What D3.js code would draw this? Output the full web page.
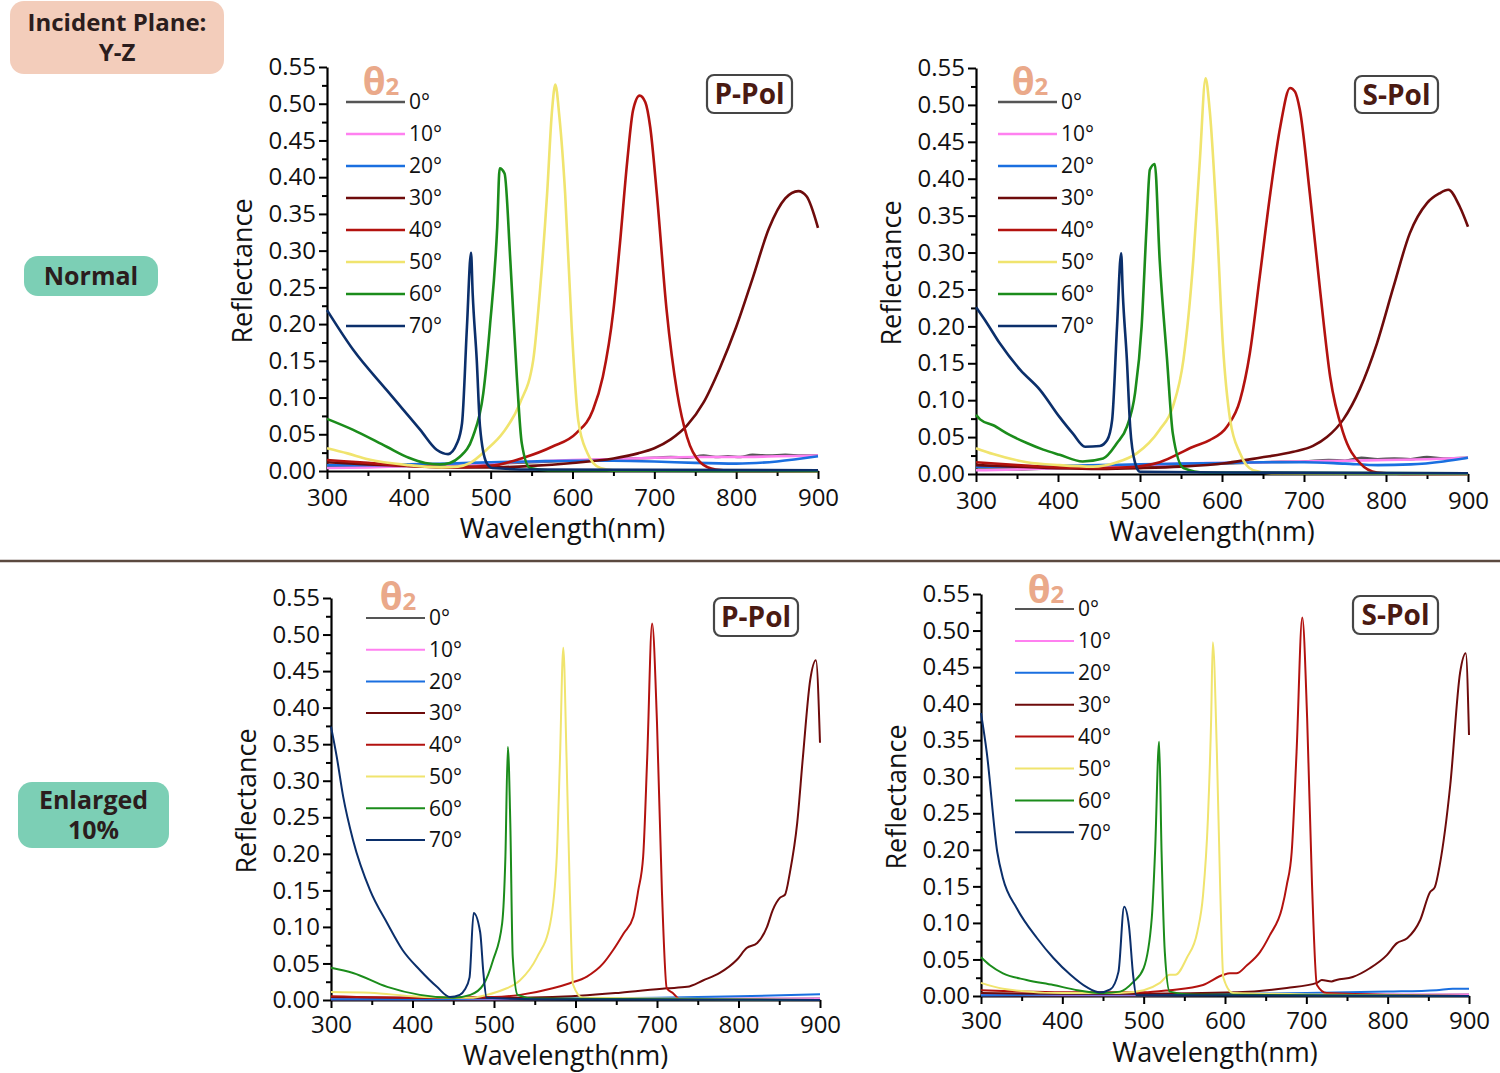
<!DOCTYPE html>
<html>
<head>
<meta charset="utf-8">
<script src="https://cdn.jsdelivr.net/npm/d3@7"></script>
<style>
  body { margin: 0; background: #fff; }
  text { font-family: "Open Sans", "Noto Sans", sans-serif; }
</style>
</head>
<body>
<div id="chart"></div>
<script>
// legend entries and colours
var angles = ["0°", "10°", "20°", "30°", "40°", "50°", "60°", "70°"];
var colors = ["#555555", "#ff80f0", "#1a6fe0", "#6e0b0b", "#b3120f", "#f0e46e", "#1b8c1b", "#0b2f6b"];
var yTicks = [0, 0.05, 0.1, 0.15, 0.2, 0.25, 0.3, 0.35, 0.4, 0.45, 0.5, 0.55];
var xTicks = [300, 400, 500, 600, 700, 800, 900];

// ---- Normal, P-Pol : [wavelength nm, reflectance]
var nP0 = [[300,0.006],[350,0.006],[400,0.007],[450,0.008],[500,0.010],[550,0.012],[600,0.014],[650,0.016],[700,0.018],[720,0.019],[740,0.018],[760,0.021],[775,0.019],[790,0.020],[805,0.019],[820,0.022],[840,0.021],[860,0.022],[880,0.021],[900,0.021]];
var nP10 = [[300,0.004],[350,0.005],[400,0.007],[450,0.009],[500,0.011],[550,0.013],[600,0.015],[650,0.016],[700,0.018],[750,0.019],[800,0.019],[850,0.020],[900,0.021]];
var nP20 = [[300,0.008],[350,0.008],[400,0.009],[450,0.010],[500,0.012],[550,0.013],[600,0.014],[650,0.014],[700,0.013],[750,0.011],[800,0.010],[850,0.013],[900,0.020]];
var nP30 = [[300,0.012],[350,0.009],[400,0.007],[450,0.005],[500,0.005],[550,0.007],[600,0.011],[650,0.017],[680,0.024],[700,0.031],[720,0.043],[740,0.062],[760,0.093],[780,0.140],[800,0.196],[820,0.262],[840,0.330],[860,0.371],[876,0.381],[886,0.374],[900,0.331]];
var nP40 = [[300,0.015],[350,0.011],[400,0.007],[450,0.005],[500,0.007],[540,0.018],[575,0.033],[605,0.052],[625,0.083],[637,0.128],[650,0.219],[658,0.310],[667,0.423],[674,0.491],[682,0.511],[689,0.502],[695,0.468],[703,0.378],[715,0.219],[728,0.106],[740,0.046],[756,0.012],[775,0.002],[800,0.000],[900,0.000]];
var nP50 = [[300,0.031],[325,0.024],[350,0.016],[400,0.008],[440,0.005],[460,0.006],[475,0.011],[495,0.029],[515,0.052],[536,0.093],[552,0.151],[560,0.242],[569,0.378],[575,0.491],[579,0.526],[584,0.482],[591,0.378],[599,0.196],[607,0.069],[618,0.025],[634,0.004],[650,0.001],[900,0.000]];
var nP60 = [[300,0.071],[332,0.056],[373,0.033],[400,0.018],[420,0.011],[438,0.009],[450,0.011],[462,0.019],[478,0.046],[491,0.106],[499,0.196],[508,0.332],[511,0.412],[517,0.405],[524,0.287],[532,0.128],[538,0.038],[548,0.004],[570,0.001],[900,0.000]];
var nP70 = [[300,0.219],[332,0.165],[373,0.110],[414,0.056],[434,0.029],[448,0.023],[459,0.038],[465,0.065],[471,0.196],[476,0.297],[478,0.242],[483,0.151],[487,0.060],[495,0.011],[502,0.004],[550,0.002],[900,0.001]];

// ---- Normal, S-Pol
var nS0 = [[300,0.006],[350,0.006],[400,0.008],[450,0.009],[500,0.011],[550,0.012],[600,0.014],[650,0.016],[700,0.017],[730,0.019],[750,0.018],[770,0.022],[790,0.020],[810,0.021],[830,0.020],[850,0.023],[870,0.021],[900,0.022]];
var nS10 = [[300,0.005],[350,0.006],[400,0.008],[450,0.010],[500,0.012],[550,0.014],[600,0.015],[650,0.016],[700,0.017],[750,0.018],[800,0.019],[850,0.020],[900,0.022]];
var nS20 = [[300,0.010],[350,0.010],[400,0.011],[450,0.012],[500,0.013],[550,0.014],[600,0.015],[650,0.016],[700,0.016],[750,0.014],[790,0.012],[830,0.013],[870,0.017],[900,0.022]];
var nS30 = [[300,0.012],[350,0.010],[400,0.008],[450,0.007],[500,0.008],[550,0.010],[606,0.015],[646,0.022],[687,0.030],[711,0.038],[728,0.050],[748,0.074],[768,0.115],[789,0.177],[809,0.253],[829,0.326],[850,0.367],[865,0.380],[876,0.385],[890,0.362],[900,0.335]];
var nS40 = [[300,0.016],[350,0.012],[400,0.009],[450,0.008],[484,0.009],[524,0.016],[565,0.037],[585,0.046],[606,0.064],[622,0.100],[634,0.164],[646,0.267],[659,0.381],[671,0.470],[683,0.523],[689,0.518],[695,0.493],[707,0.381],[720,0.245],[732,0.131],[748,0.055],[768,0.015],[789,0.002],[820,0.000],[900,0.000]];
var nS50 = [[300,0.035],[321,0.027],[362,0.016],[402,0.012],[443,0.010],[472,0.016],[496,0.028],[524,0.060],[540,0.091],[553,0.155],[565,0.290],[573,0.425],[580,0.536],[585,0.493],[594,0.335],[601,0.177],[610,0.073],[622,0.028],[638,0.005],[660,0.001],[900,0.000]];
var nS60 = [[300,0.080],[305,0.074],[321,0.066],[341,0.053],[362,0.042],[382,0.033],[402,0.026],[430,0.017],[455,0.021],[472,0.042],[484,0.064],[494,0.110],[502,0.200],[508,0.335],[512,0.412],[518,0.420],[524,0.290],[533,0.155],[540,0.055],[553,0.008],[580,0.002],[900,0.001]];
var nS70 = [[300,0.226],[313,0.205],[329,0.177],[354,0.141],[378,0.114],[402,0.077],[418,0.055],[433,0.037],[451,0.038],[460,0.046],[466,0.073],[472,0.200],[477,0.299],[479,0.245],[484,0.155],[488,0.064],[494,0.015],[500,0.003],[600,0.002],[900,0.001]];

// ---- Enlarged 10%, P-Pol
var eP0 = [[300,0.002],[500,0.001],[700,0.001],[900,0.002]];
var eP10 = [[300,0.001],[500,0.001],[700,0.002],[900,0.002]];
var eP20 = [[300,0.001],[400,0.001],[500,0.002],[600,0.002],[700,0.003],[800,0.005],[900,0.008]];
var eP30 = [[300,0.004],[400,0.003],[500,0.003],[572,0.004],[655,0.010],[712,0.016],[737,0.018],[757,0.027],[777,0.037],[798,0.055],[810,0.071],[823,0.078],[835,0.100],[842,0.123],[851,0.140],[857,0.144],[863,0.174],[872,0.242],[879,0.332],[888,0.438],[895,0.465],[900,0.352]];
var eP40 = [[300,0.005],[400,0.003],[500,0.004],[532,0.007],[572,0.016],[593,0.023],[614,0.032],[634,0.050],[646,0.068],[659,0.091],[671,0.114],[677,0.150],[683,0.196],[688,0.332],[694,0.515],[700,0.379],[706,0.150],[712,0.016],[720,0.009],[728,0.001],[900,0.000]];
var eP50 = [[300,0.011],[348,0.010],[400,0.005],[450,0.003],[471,0.003],[491,0.007],[511,0.014],[532,0.027],[553,0.059],[569,0.105],[577,0.196],[581,0.332],[585,0.482],[589,0.332],[593,0.150],[597,0.021],[609,0.003],[900,0.000]];
var eP60 = [[300,0.044],[327,0.037],[369,0.018],[409,0.007],[450,0.003],[471,0.007],[487,0.021],[499,0.055],[510,0.105],[514,0.196],[517,0.346],[520,0.242],[523,0.059],[529,0.007],[550,0.002],[900,0.000]];
var eP70 = [[300,0.374],[307,0.333],[315,0.278],[327,0.219],[348,0.150],[369,0.105],[388,0.068],[409,0.041],[430,0.018],[446,0.004],[458,0.007],[464,0.014],[470,0.031],[475,0.119],[483,0.093],[487,0.037],[491,0.003],[550,0.001],[900,0.000]];

// ---- Enlarged 10%, S-Pol
var eS0 = [[300,0.002],[500,0.001],[700,0.001],[900,0.002]];
var eS10 = [[300,0.001],[500,0.001],[700,0.002],[900,0.002]];
var eS20 = [[300,0.001],[400,0.002],[500,0.002],[600,0.003],[700,0.004],[800,0.006],[860,0.008],[880,0.010],[900,0.010]];
var eS30 = [[300,0.004],[400,0.003],[500,0.003],[615,0.005],[676,0.011],[713,0.018],[719,0.022],[731,0.020],[737,0.022],[757,0.026],[778,0.038],[799,0.056],[811,0.072],[824,0.079],[840,0.104],[852,0.142],[858,0.149],[864,0.179],[877,0.289],[889,0.442],[896,0.469],[900,0.357]];
var eS40 = [[300,0.008],[350,0.006],[400,0.005],[500,0.005],[532,0.008],[573,0.015],[598,0.029],[606,0.031],[614,0.031],[627,0.042],[643,0.060],[655,0.083],[670,0.120],[676,0.152],[682,0.197],[688,0.334],[695,0.518],[701,0.380],[707,0.152],[713,0.015],[725,0.004],[900,0.000]];
var eS50 = [[300,0.018],[327,0.010],[400,0.004],[470,0.004],[500,0.008],[520,0.018],[532,0.029],[539,0.029],[553,0.052],[566,0.088],[573,0.138],[579,0.243],[583,0.380],[585,0.484],[590,0.334],[594,0.152],[598,0.025],[610,0.004],[900,0.000]];
var eS60 = [[300,0.053],[311,0.042],[327,0.031],[356,0.022],[389,0.015],[418,0.008],[450,0.004],[471,0.006],[487,0.019],[500,0.038],[510,0.107],[514,0.197],[519,0.348],[522,0.197],[526,0.060],[532,0.006],[560,0.002],[900,0.000]];
var eS70 = [[300,0.387],[307,0.334],[320,0.197],[327,0.161],[344,0.120],[369,0.079],[389,0.052],[410,0.029],[430,0.012],[446,0.005],[459,0.009],[469,0.033],[476,0.122],[482,0.095],[487,0.029],[491,0.001],[550,0.001],[900,0.000]];

// panel layout (pixel boxes), series lists built from the arrays above
var panels = [
  { left: 327, top: 67, w: 491, h: 404, pol: "P-Pol", box: [707, 75, 85, 38], leg: [19, 35, 32], theta: [381, 95], lw: 2.6, xt: 67, pad: 10,
    series: [nP0, nP10, nP20, nP30, nP40, nP50, nP60, nP70] },
  { left: 976, top: 68, w: 492, h: 406, pol: "S-Pol", box: [1355, 76, 83, 37], leg: [22, 34, 32], theta: [1030, 95], lw: 2.6, xt: 67, pad: 10,
    series: [nS0, nS10, nS20, nS30, nS40, nS50, nS60, nS70] },
  { left: 331, top: 598, w: 489, h: 402, pol: "P-Pol", box: [714, 598, 84, 38], leg: [35, 20, 31.7], theta: [398, 610], lw: 2, xt: 65, pad: 8,
    series: [eP0, eP10, eP20, eP30, eP40, eP50, eP60, eP70] },
  { left: 981, top: 594, w: 488, h: 402, pol: "S-Pol", box: [1353, 596, 85, 38], leg: [34, 15, 31.9], theta: [1046, 603], lw: 2, xt: 66, pad: 8,
    series: [eS0, eS10, eS20, eS30, eS40, eS50, eS60, eS70] }
];

var svg = d3.select("#chart").append("svg")
  .attr("width", 1500)
  .attr("height", 1073);

// side labels
function sideBox(x, y, w, h, fill, lines, size, lh) {
  svg.append("rect").attr("x", x).attr("y", y).attr("width", w).attr("height", h)
    .attr("rx", 14).attr("fill", fill);
  var t = svg.append("text").attr("text-anchor", "middle")
    .attr("font-weight", "bold").attr("font-size", size).attr("fill", "#2b1d1d");
  var y0 = y + h / 2 - (lines.length - 1) * lh / 2;
  lines.forEach(function (l, i) {
    t.append("tspan").attr("x", x + w / 2).attr("y", y0 + i * lh).attr("dy", "0.35em").text(l);
  });
}
sideBox(10, 1, 214, 73, "#f3cdbb", ["Incident Plane:", "Y-Z"], 24, 30);
sideBox(24, 256, 134, 40, "#7ccfb5", ["Normal"], 25, 0);
sideBox(18, 782, 151, 66, "#7ccfb5", ["Enlarged", "10%"], 25, 30);

// divider
svg.append("line").attr("x1", 0).attr("x2", 1500).attr("y1", 561).attr("y2", 561)
  .attr("stroke", "#5b4a40").attr("stroke-width", 2.5);

panels.forEach(function (p) {
  var x = d3.scaleLinear().domain([300, 900]).range([p.left, p.left + p.w]);
  var y = d3.scaleLinear().domain([0, 0.55]).range([p.top + p.h, p.top]);
  var g = svg.append("g");

  // minor ticks
  g.append("g").attr("transform", "translate(0," + (p.top + p.h) + ")")
    .call(d3.axisBottom(x).tickValues(d3.range(350, 900, 100)).tickSize(5).tickFormat(""))
    .call(function (a) { a.select(".domain").remove(); })
    .selectAll("line").attr("stroke-width", 2);
  g.append("g").attr("transform", "translate(" + p.left + ",0)")
    .call(d3.axisLeft(y).tickValues(d3.range(0.025, 0.55, 0.05)).tickSize(5).tickFormat(""))
    .call(function (a) { a.select(".domain").remove(); })
    .selectAll("line").attr("stroke-width", 2);

  // major axes
  var xa = g.append("g").attr("transform", "translate(0," + (p.top + p.h) + ")")
    .call(d3.axisBottom(x).tickValues(xTicks).tickSize(8).tickSizeOuter(0).tickPadding(p.pad));
  var ya = g.append("g").attr("transform", "translate(" + p.left + ",0)")
    .call(d3.axisLeft(y).tickValues(yTicks).tickSize(8).tickSizeOuter(0).tickPadding(3)
      .tickFormat(d3.format(".2f")));
  [xa, ya].forEach(function (a) {
    a.select(".domain").attr("stroke-width", 2.2);
    a.selectAll("line").attr("stroke-width", 2);
    a.selectAll("text").attr("font-size", 24).attr("fill", "#111")
      .style("font-family", "'Open Sans', sans-serif");
  });

  // axis titles
  svg.append("text").attr("x", p.left + p.w / 2 - 10).attr("y", p.top + p.h + p.xt)
    .attr("text-anchor", "middle").attr("font-size", 27).attr("fill", "#111")
    .text("Wavelength(nm)");
  svg.append("text")
    .attr("transform", "translate(" + (p.left - 75) + "," + (p.top + p.h / 2 + 2) + ") rotate(-90)")
    .attr("text-anchor", "middle").attr("font-size", 27).attr("fill", "#111")
    .text("Reflectance");

  // curves
  var line = d3.line()
    .x(function (d) { return x(d[0]); })
    .y(function (d) { return y(d[1]); })
    .curve(d3.curveMonotoneX);
  g.append("g").selectAll("path").data(p.series).enter().append("path")
    .attr("d", line)
    .attr("fill", "none")
    .attr("stroke", function (d, i) { return colors[i]; })
    .attr("stroke-width", p.lw)
    .attr("stroke-linejoin", "round");

  // legend
  var lx = p.left + p.leg[0];
  var leg = svg.append("g");
  var rows = leg.selectAll("g").data(angles).enter().append("g")
    .attr("transform", function (d, i) { return "translate(" + lx + "," + (p.top + p.leg[1] + i * p.leg[2]) + ")"; });
  rows.append("line").attr("x1", 0).attr("x2", 59)
    .attr("stroke", function (d, i) { return colors[i]; })
    .attr("stroke-width", p.lw);
  rows.append("text").attr("x", 63).attr("dy", "0.35em")
    .attr("font-size", 21).attr("fill", "#111")
    .text(function (d) { return d; });

  var th = svg.append("text").attr("x", p.theta[0]).attr("y", p.theta[1])
    .attr("text-anchor", "middle").attr("fill", "#eaa98a").attr("font-weight", "bold");
  th.append("tspan").attr("font-size", 37).text("θ");
  th.append("tspan").attr("font-size", 24).text("2");

  // polarisation tag
  var b = p.box;
  svg.append("rect").attr("x", b[0]).attr("y", b[1]).attr("width", b[2]).attr("height", b[3])
    .attr("rx", 7).attr("fill", "#fff").attr("stroke", "#454545").attr("stroke-width", 2.2);
  svg.append("text").attr("x", b[0] + b[2] / 2).attr("y", b[1] + b[3] / 2).attr("dy", "0.36em")
    .attr("text-anchor", "middle").attr("font-size", 28).attr("font-weight", "bold")
    .attr("fill", "#4a1a12").text(p.pol);
});
</script>
</body>
</html>
